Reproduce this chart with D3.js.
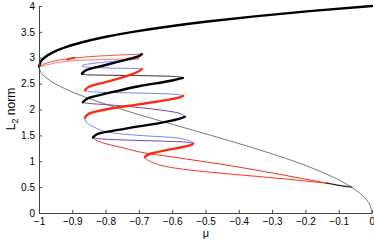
<!DOCTYPE html>
<html>
<head>
<meta charset="utf-8">
<script src="https://cdnjs.cloudflare.com/ajax/libs/d3/7.8.5/d3.min.js"></script>
<style>
body { margin: 0; background: #fff; }
svg { display: block; font-family: "Liberation Sans", Arial, sans-serif; }
.axis path, .axis line { stroke: #444; }
.axis text { font-size: 10px; fill: #000; }
</style>
</head>
<body>
<svg></svg>
<script>
var width = 374, height = 241;

var xTicks = [-1, -0.9, -0.8, -0.7, -0.6, -0.5, -0.4, -0.3, -0.2, -0.1, 0];
var xTickLabels = ['\u22121', '\u22120.9', '\u22120.8', '\u22120.7', '\u22120.6', '\u22120.5', '\u22120.4', '\u22120.3', '\u22120.2', '\u22120.1', '0'];
var yTicks = [0, 0.5, 1, 1.5, 2, 2.5, 3, 3.5, 4];
var yTickLabels = ['0', '0.5', '1', '1.5', '2', '2.5', '3', '3.5', '4'];

// main branch, [mu, L2 norm]
var mainUpper = [[-1.0,2.83],[-0.992,2.95],[-0.984,3.0],[-0.96,3.1],[-0.922,3.2],[-0.87,3.3],[-0.802,3.4],[-0.718,3.5],[-0.616,3.6],[-0.494,3.7],[-0.352,3.8],[-0.188,3.9],[0,4.0]];
var mainLower = [[0,0],[-0.01,0.2],[-0.04,0.4],[-0.088,0.6],[-0.154,0.8],[-0.234,1.0],[-0.328,1.2],[-0.43,1.4],[-0.538,1.6],[-0.646,1.8],[-0.75,2.0],[-0.844,2.2],[-0.922,2.4],[-0.976,2.6],[-0.992,2.7],[-1.0,2.83]];

// black snake
var blackS1 = [[-0.838,1.46],[-0.823,1.53],[-0.74,1.63],[-0.62,1.76],[-0.575,1.83],[-0.562,1.86]];
var purpleS2 = [[-0.562,1.86],[-0.575,1.92],[-0.66,2.01],[-0.79,2.09],[-0.855,2.12],[-0.868,2.14]];
var blackS3 = [[-0.868,2.14],[-0.852,2.22],[-0.79,2.32],[-0.70,2.45],[-0.60,2.56],[-0.568,2.61]];
var grayS4 = [[-0.568,2.61],[-0.585,2.635],[-0.70,2.655],[-0.82,2.665],[-0.862,2.675],[-0.871,2.69]];
var blackS5 = [[-0.871,2.69],[-0.858,2.76],[-0.80,2.86],[-0.74,2.96],[-0.70,3.03],[-0.691,3.07]];

// red snake
var redR1 = [[-0.682,1.08],[-0.668,1.14],[-0.62,1.21],[-0.572,1.27],[-0.545,1.31],[-0.537,1.345]];
var blueR2 = [[-0.537,1.345],[-0.55,1.40],[-0.60,1.46],[-0.70,1.50],[-0.78,1.55],[-0.835,1.66],[-0.858,1.76],[-0.862,1.84]];
var redR3 = [[-0.862,1.84],[-0.85,1.92],[-0.80,2.0],[-0.70,2.10],[-0.61,2.19],[-0.575,2.24],[-0.567,2.265]];
var blueR4 = [[-0.567,2.265],[-0.585,2.29],[-0.68,2.315],[-0.80,2.33],[-0.85,2.345],[-0.862,2.37]];
var redR5 = [[-0.862,2.37],[-0.85,2.44],[-0.80,2.53],[-0.74,2.64],[-0.70,2.74],[-0.691,2.78]];
var blueR6 = [[-0.691,2.78],[-0.70,2.79],[-0.78,2.80],[-0.85,2.815],[-0.871,2.84],[-0.86,2.87],[-0.78,2.93],[-0.71,2.97],[-0.70,2.98]];

// connections to the main branch
var redTop1 = [[-0.997,2.84],[-0.975,2.90],[-0.94,2.955],[-0.90,2.99],[-0.80,3.04],[-0.691,3.07]];
var redTop2 = [[-0.995,2.83],[-0.97,2.87],[-0.93,2.92],[-0.88,2.95],[-0.78,2.97],[-0.70,2.98]];
var redKink = [[-0.915,2.965],[-0.905,2.985],[-0.893,3.0]];
var purpleRung = [[-0.537,1.345],[-0.56,1.37],[-0.64,1.39],[-0.74,1.41],[-0.81,1.43],[-0.838,1.46]];
var redLow1 = [[-0.136,0.576],[-0.306,0.78],[-0.412,0.90],[-0.607,1.09],[-0.682,1.16],[-0.742,1.25],[-0.80,1.34],[-0.83,1.41],[-0.838,1.46]];
var redLow2 = [[-0.136,0.576],[-0.306,0.685],[-0.456,0.77],[-0.547,0.83],[-0.62,0.90],[-0.66,0.98],[-0.677,1.04],[-0.682,1.08]];
var darkLow = [[-0.06,0.497],[-0.10,0.535],[-0.136,0.576]];

var x = d3.scaleLinear().domain([-1, 0]).range([39, 372]);
var y = d3.scaleLinear().domain([0, 4]).range([213, 6]);

var svg = d3.select('svg')
            .attr('width', width)
            .attr('height', height);

var line = d3.line()
             .x(d => x(d[0]))
             .y(d => y(d[1]))
             .curve(d3.curveMonotoneY);

var curves = [
    {data: mainLower, color: '#555', w: 0.8},
    {data: redLow2, color: '#ff3322', w: 1},
    {data: redLow1, color: '#e8331f', w: 1},
    {data: darkLow, color: '#222', w: 1.2},
    {data: purpleRung, color: '#6a48b0', w: 1},
    {data: blueR2, color: '#7283ff', w: 1},
    {data: blueR4, color: '#7283ff', w: 1},
    {data: blueR6, color: '#7283ff', w: 1},
    {data: redTop2, color: '#ff6a55', w: 0.9},
    {data: redTop1, color: '#ee3a25', w: 0.9},
    {data: purpleS2, color: '#6a48b0', w: 1},
    {data: grayS4, color: '#333', w: 1},
    {data: redR1, color: '#ff2a12', w: 2.4},
    {data: redR3, color: '#ff2a12', w: 2.4},
    {data: redR5, color: '#ff2a12', w: 2.4},
    {data: redKink, color: '#ff2a12', w: 2},
    {data: blackS1, color: '#000', w: 2.4},
    {data: blackS3, color: '#000', w: 2.4},
    {data: blackS5, color: '#000', w: 2.4},
    {data: mainUpper, color: '#000', w: 2.4}
];

svg.append('g')
    .selectAll('path')
    .data(curves)
    .enter()
    .append('path')
        .attr('d', d => line(d.data))
        .attr('fill', 'none')
        .attr('stroke', d => d.color)
        .attr('stroke-width', d => d.w)
        .attr('stroke-linecap', 'round');

// MATLAB style axes, ticks pointing in
var xAxis = svg.append('g')
    .classed('axis', true)
    .attr('transform', 'translate(0,213)')
    .call(d3.axisBottom(x)
            .tickValues(xTicks)
            .tickFormat((d, i) => xTickLabels[i])
            .tickSizeInner(-3)
            .tickSizeOuter(0)
            .tickPadding(5));

// keep the last label inside the picture
xAxis.selectAll('.tick:last-of-type text').attr('text-anchor', 'end').attr('dx', 2.5);

svg.append('g')
    .classed('axis', true)
    .attr('transform', 'translate(39,0)')
    .call(d3.axisLeft(y)
            .tickValues(yTicks)
            .tickFormat((d, i) => yTickLabels[i])
            .tickSizeInner(-3)
            .tickSizeOuter(0)
            .tickPadding(4));

svg.append('text')
    .attr('x', 206)
    .attr('y', 237)
    .attr('text-anchor', 'middle')
    .style('font-size', '11px')
    .text('μ');

var yLabel = svg.append('text')
    .attr('transform', 'translate(15,109) rotate(-90)')
    .attr('text-anchor', 'middle')
    .style('font-size', '12px');
yLabel.append('tspan').text('L');
yLabel.append('tspan').attr('dy', 3).style('font-size', '9px').text('2');
yLabel.append('tspan').attr('dy', -3).text(' norm');
</script>
</body>
</html>
